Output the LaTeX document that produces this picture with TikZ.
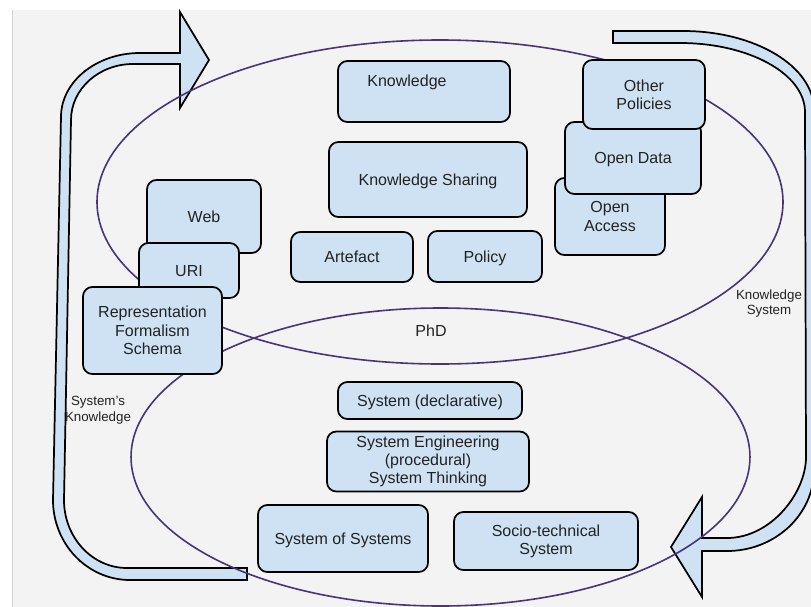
\documentclass[tikz,border=0pt]{standalone}
\usepackage{fontspec}
\setmainfont{Liberation Sans}
\definecolor{boxblue}{HTML}{CFE2F3}
\definecolor{canvas}{HTML}{F3F3F3}
\definecolor{edgegray}{HTML}{D4D4D4}
\definecolor{ringpurple}{RGB}{72,52,122}
\definecolor{inktext}{HTML}{222222}
\newcommand{\boxfont}{\fontsize{12pt}{13.7pt}\selectfont}
\newcommand{\tagfont}{\fontsize{10pt}{11.7pt}\selectfont}
\tikzset{
  box/.style={draw=black, line width=1.3pt, fill=boxblue, rounded corners=7pt,
    align=center, inner sep=0pt, font=\boxfont, text=inktext},
  oneline/.style={text height=10.9pt, text depth=2.5pt},
  plain/.style={align=center, inner sep=0pt, font=\boxfont, text=inktext},
  tag/.style={align=center, inner sep=0pt, font=\tagfont, text=inktext},
  band/.style={draw=black, line width=1.3pt, fill=boxblue, line join=miter},
  ring/.style={draw=ringpurple, line width=1.2pt},
}
\begin{document}
\begin{tikzpicture}[x=0.75pt,y=-0.75pt]
\useasboundingbox (0,0) rectangle (811,607);
\clip (0,0) rectangle (811,607);
% page and canvas
\fill[white] (0,0) rectangle (811,607);
\fill[canvas] (13,9.5) rectangle (811,607);
\draw[edgegray, line width=1pt] (12.5,9.5) -- (12.5,607);

% left feedback band (System's Knowledge)
\draw[band] (247,580) -- (130,580)
  .. controls (87.5,580) and (53,544.2) .. (53,500)
  -- (61,117)
  .. controls (61,81.7) and (96.4,53) .. (140,53)
  -- (180,53) -- (180,12) -- (209,60) -- (180,108) -- (180,64)
  -- (133,64)
  .. controls (98.8,64) and (71,89.1) .. (71,120)
  -- (64,500)
  .. controls (64,537.5) and (92.2,568) .. (127,568)
  -- (247,568) -- cycle;

% right feedback band (Knowledge System)
\draw[band] (613,31) -- (683,31)
  .. controls (755.3,31) and (814,66.4) .. (814,110)
  -- (814,470)
  .. controls (814,514.7) and (775,551) .. (727,551)
  -- (702,551) -- (702,597) -- (671,547) -- (702,497) -- (702,538)
  -- (727,538)
  .. controls (770.6,538) and (806,493.3) .. (806,457)
  -- (805,112)
  .. controls (805,73.9) and (749,43) .. (680,43)
  -- (613,43) -- cycle;

% the two overlapping rings
\draw[ring] (440,202) ellipse [x radius=257.25pt, y radius=121.5pt];
\draw[ring] (440.5,457) ellipse [x radius=232.1pt, y radius=111.75pt];

% upper ring contents
\node[box, minimum width=129pt, minimum height=45.75pt] (know) at (424,91.5) {};
\node[plain, oneline] (knowtext) at (407,81) {Knowledge};
\node[box, oneline, minimum width=148.5pt, minimum height=56.25pt] (share) at (428,179.5) {Knowledge Sharing};
\node[box, oneline, minimum width=91.5pt, minimum height=37.5pt] (artefact) at (352,257) {Artefact};
\node[box, oneline, minimum width=85.5pt, minimum height=38.25pt] (policy) at (485,256.5) {Policy};

\node[box, minimum width=82.5pt, minimum height=57.75pt] (openaccess) at (610,216.5) {Open\\Access};
\node[box, oneline, minimum width=102pt, minimum height=54pt] (opendata) at (633,158) {Open Data};
\node[box, minimum width=91.5pt, minimum height=51.75pt] (otherpol) at (644,94.5) {Other\\Policies};

\node[box, oneline, minimum width=85.5pt, minimum height=54.75pt] (web) at (204,216.5) {Web};
\node[box, oneline, minimum width=75pt, minimum height=41.25pt] (uri) at (189,270.5) {URI};
\node[box, minimum width=104.25pt, minimum height=65.25pt] (repr) at (152.5,330.5) {Representation\\Formalism\\Schema};

\node[plain, oneline] (phd) at (431,331) {PhD};

% lower ring contents
\node[box, oneline, minimum width=138pt, minimum height=27.75pt] (sysdecl) at (430,400.5) {System (declarative)};
\node[box, minimum width=151.5pt, minimum height=45pt] (syseng) at (428,461.5) {System Engineering\\(procedural)\\System Thinking};
\node[box, oneline, minimum width=127.5pt, minimum height=50.25pt] (sos) at (343,538.5) {System of Systems};
\node[box, minimum width=138pt, minimum height=43.5pt] (socio) at (546,541) {Socio-technical\\System};

% band captions
\node[tag] (kslabel) at (769,303.5) {Knowledge\\System};
\node[tag] (sklabel) at (98,410.5) {System's\\Knowledge};
\end{tikzpicture}
\end{document}
